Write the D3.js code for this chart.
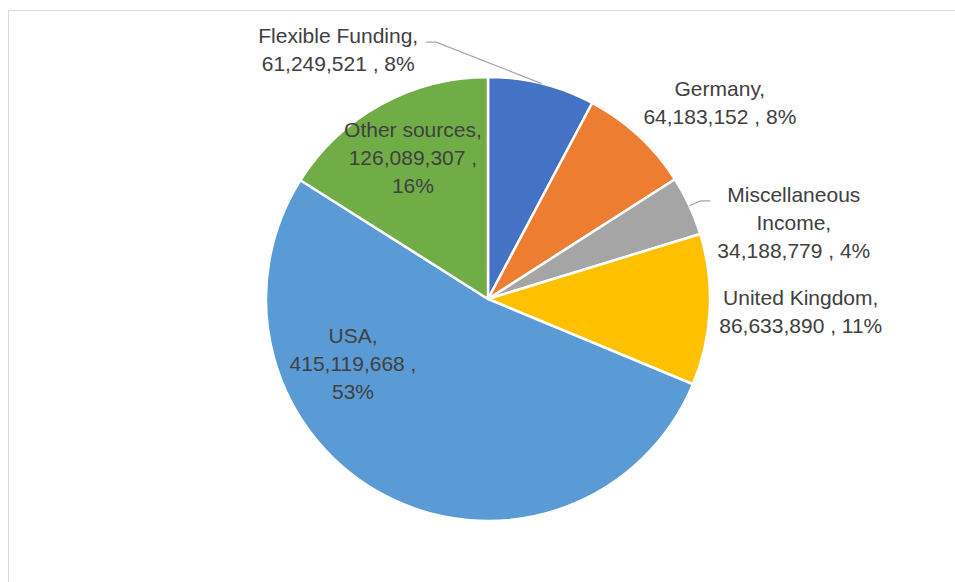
<!DOCTYPE html>
<html>
<head>
<meta charset="utf-8">
<script src="https://cdn.jsdelivr.net/npm/d3@7"></script>
<style>
	body { margin: 0; background: #fff; }
	svg { display: block; }
	.label { font-family: 'Liberation Sans', Arial, sans-serif; font-size: 21px; fill: #404040; }
</style>
</head>
<body>
<script>
// Funding sources, clockwise from 12 o'clock
const sources = ['Flexible Funding', 'Germany', 'Miscellaneous Income', 'United Kingdom', 'USA', 'Other sources'];
const amounts = [61249521, 64183152, 34188779, 86633890, 415119668, 126089307];
const colours = ['#4472C4', '#ED7D31', '#A5A5A5', '#FFC000', '#5B9BD5', '#70AD47'];

// Label placement: shift from slice mid angle (deg), distance as fraction of radius, wrap width, leader?
const labelLayout = [
	{shift: -45, dist: 1.31, wrap: 170, leader: true},
	{shift: 7, dist: 1.37, wrap: 170, leader: false},
	{shift: 10.8, dist: 1.42, wrap: 160, leader: true},
	{shift: -0.4, dist: 1.41, wrap: 170, leader: false},
	{shift: 37, dist: 0.674, wrap: 135, leader: false},
	{shift: 0.8, dist: 0.72, wrap: 150, leader: false}
];

const width = 955;
const height = 582;
const cx = 488;
const cy = 299;
const radius = 222;
const lineHeight = 28;

const data = sources.map((s, i) => ({name: s, value: amounts[i], colour: colours[i], layout: labelLayout[i]}));
const total = d3.sum(amounts);

const svg = d3.select('body').append('svg').attr('width', width).attr('height', height);

// Chart area border (runs off the right and bottom edges)
svg.append('rect')
	.attr('x', 8.5)
	.attr('y', 10.5)
	.attr('width', width + 20)
	.attr('height', height + 20)
	.attr('fill', 'none')
	.attr('stroke', '#d9d9d9')
	.attr('stroke-width', 1);

const g = svg.append('g').attr('transform', `translate(${cx}, ${cy})`);

const pie = d3.pie().value((d) => d.value).sort(null);
const arc = d3.arc().innerRadius(0).outerRadius(radius);
const arcs = pie(data);

g.selectAll('path.slice')
	.data(arcs)
	.enter()
	.append('path')
	.attr('class', 'slice')
	.attr('d', arc)
	.attr('fill', (d) => d.data.colour)
	.attr('stroke', '#fff')
	.attr('stroke-width', 2.5)
	.attr('stroke-linejoin', 'round');

const fmt = d3.format(',');

function polar(angle, r) {
	return [r * Math.sin(angle), -r * Math.cos(angle)];
}

// Word wrap using measured text width
function wrapWords(text, maxWidth) {
	const probe = g.append('text').attr('class', 'label');
	const words = text.split(' ');
	const lines = [];
	let line = words[0];
	for (let i = 1; i < words.length; i++) {
		const test = line + ' ' + words[i];
		probe.text(test);
		if (probe.node().getComputedTextLength() > maxWidth) {
			lines.push(line);
			line = words[i];
		} else {
			line = test;
		}
	}
	lines.push(line);
	probe.remove();
	return lines;
}

arcs.forEach((d) => {
	const mid = (d.startAngle + d.endAngle) / 2;
	const lay = d.data.layout;
	const pct = Math.round((d.data.value / total) * 100);
	const text = `${d.data.name}, ${fmt(d.data.value)} , ${pct}%`;
	const lines = wrapWords(text, lay.wrap);
	const [lx, ly] = polar(mid + (lay.shift * Math.PI) / 180, radius * lay.dist);

	const label = g.append('text')
		.attr('class', 'label')
		.attr('text-anchor', 'middle');
	lines.forEach((ln, i) => {
		label.append('tspan')
			.attr('x', lx)
			.attr('y', ly + (i - (lines.length - 1) / 2) * lineHeight + 7.4)
			.text(ln);
	});

	if (lay.leader) {
		const box = label.node().getBBox();
		const firstBase = ly - ((lines.length - 1) / 2) * lineHeight + 7.4 - 1;
		const [sx, sy] = polar(mid, radius);
		const onLeft = lx < sx;
		const ex = onLeft ? box.x + box.width + 8 : box.x - 7;
		const kx = onLeft ? ex + 10 : ex - 10;
		g.append('polyline')
			.attr('points', `${sx},${sy} ${kx},${firstBase} ${ex},${firstBase}`)
			.attr('fill', 'none')
			.attr('stroke', '#a6a6a6')
			.attr('stroke-width', 1.2);
	}
});
</script>
</body>
</html>
